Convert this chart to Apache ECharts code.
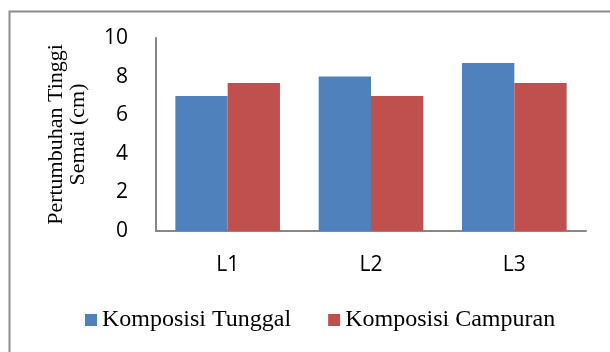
<!DOCTYPE html>
<html>
<head>
<meta charset="utf-8">
<script src="https://cdn.jsdelivr.net/npm/echarts@6/dist/echarts.min.js"></script>
<style>
  html, body { margin: 0; padding: 0; background: #fff; }
  #chart { width: 610px; height: 352px; }
</style>
</head>
<body>
<div id="chart"></div>
<script>
// data
const categories = ['L1', 'L2', 'L3']
const seriesNames = ['Komposisi Tunggal', 'Komposisi Campuran']
const tunggal = [7.0, 8.0, 8.7]
const campuran = [7.67, 7.0, 7.67]
const yTicks = { min: 0, max: 10, interval: 2 }

const serif = '"Liberation Serif", "Times New Roman", serif'
const sans = '"Open Sans", sans-serif'

const chart = echarts.init(document.getElementById('chart'))

chart.setOption({
	animation: false,
	color: ['#4F81BD', '#C0504D'],
	graphic: [
		{
			type: 'rect',
			left: 7,
			top: 9,
			shape: { width: 700, height: 500 },
			style: { fill: 'none', stroke: '#8c8c8c', lineWidth: 2 }
		}
	],
	grid: {
		left: 156,
		right: 24,
		top: 38,
		bottom: 121
	},
	legend: {
		left: 80,
		top: 303,
		itemWidth: 12,
		itemHeight: 12,
		itemGap: 37,
		icon: 'rect',
		textStyle: {
			fontFamily: serif,
			fontSize: 24,
			color: '#000'
		},
		data: seriesNames
	},
	xAxis: {
		type: 'category',
		data: categories,
		axisLine: { lineStyle: { color: '#888', width: 2 } },
		axisTick: { show: false },
		axisLabel: {
			margin: 24,
			fontFamily: sans,
			fontSize: 21,
			color: '#000'
		}
	},
	yAxis: {
		type: 'value',
		min: yTicks.min,
		max: yTicks.max,
		interval: yTicks.interval,
		name: 'Pertumbuhan Tinggi\nSemai (cm)',
		nameLocation: 'middle',
		nameGap: 67,
		nameTextStyle: {
			fontFamily: serif,
			fontSize: 22,
			lineHeight: 22,
			color: '#000'
		},
		axisLine: { show: true, lineStyle: { color: '#888', width: 2 } },
		axisTick: { show: false },
		splitLine: { show: false },
		axisLabel: {
			margin: 28,
			fontFamily: sans,
			fontSize: 21,
			color: '#000'
		}
	},
	series: [
		{
			name: seriesNames[0],
			type: 'bar',
			data: tunggal,
			barGap: '0%',
			barCategoryGap: '27%'
		},
		{
			name: seriesNames[1],
			type: 'bar',
			data: campuran
		}
	]
})
</script>
</body>
</html>
